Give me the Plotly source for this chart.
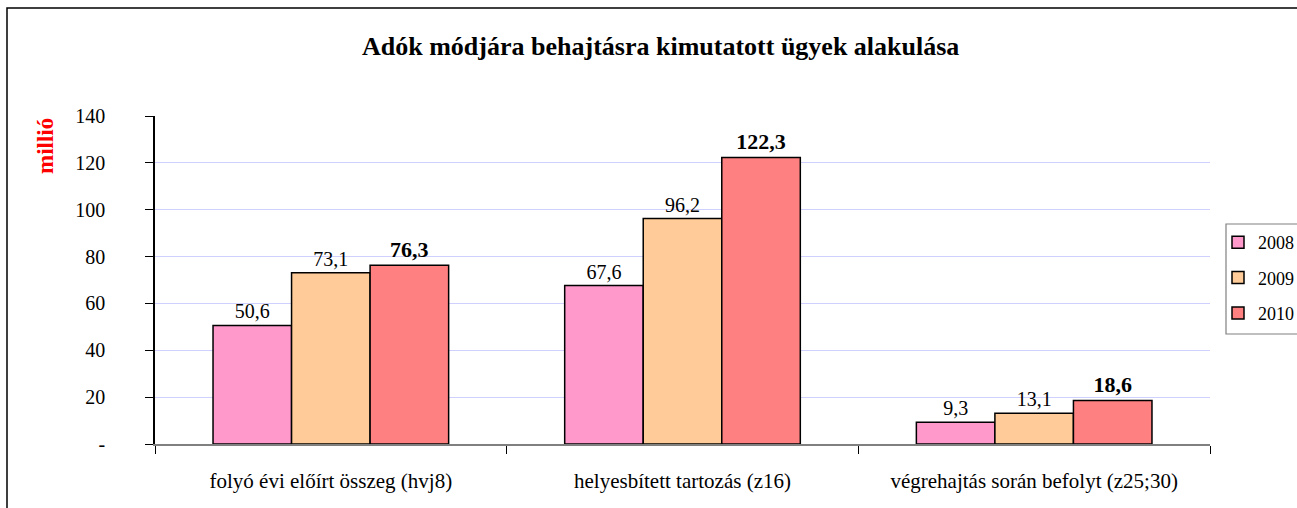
import plotly.graph_objects as go

categories = ["folyó évi előírt összeg (hvj8)", "helyesbített tartozás (z16)", "végrehajtás során befolyt (z25;30)"]
years = ["2008", "2009", "2010"]
values_2008 = [50.6, 67.6, 9.3]
values_2009 = [73.1, 96.2, 13.1]
values_2010 = [76.3, 122.3, 18.6]
colors = ["#FF99CC", "#FFCC99", "#FF8080"]
ytick_vals = [0, 20, 40, 60, 80, 100, 120, 140]
ytick_text = ["-", "20", "40", "60", "80", "100", "120", "140"]

W, H = 1297, 508
L, R, T, B = 155, 87, 116, 64
PW, PH = W - L - R, H - T - B
FONT = "Liberation Serif"

def fmt(v):
    return f"{v:.1f}".replace(".", ",")

fig = go.Figure()
for name, vals, col in zip(years, [values_2008, values_2009, values_2010], colors):
    bold = name == "2010"
    fig.add_trace(go.Bar(
        name=name, x=categories, y=vals, legendgroup=name,
        marker=dict(color=col, line=dict(color="black", width=1.5)),
        text=[f"<b>{fmt(v)}</b>" if bold else fmt(v) for v in vals],
        textposition="outside", cliponaxis=False,
        textfont=dict(family=FONT, size=22 if bold else 20, color="black"),
    ))

fig.update_layout(
    width=W, height=H,
    margin=dict(l=L, r=R, t=T, b=B, autoexpand=False),
    paper_bgcolor="white", plot_bgcolor="white",
    barmode="group", bargap=0.33, bargroupgap=0,
    font=dict(family=FONT, size=20, color="black"),
    showlegend=True,
    legend=dict(x=(1218 - L) / PW, y=(H - B - 224) / PH, xanchor="left", yanchor="top",
                borderwidth=0, traceorder="grouped",
                font=dict(family=FONT, size=18), tracegroupgap=9,
                itemwidth=30, bgcolor="rgba(0,0,0,0)"),
    xaxis=dict(showline=True, linecolor="#808080", linewidth=1.5,
               ticks="outside", tickson="boundaries", ticklen=8, tickcolor="black",
               tickfont=dict(family=FONT, size=21), ticklabelstandoff=17),
    yaxis=dict(range=[0, 140], tickvals=ytick_vals, ticktext=ytick_text,
               showline=True, linecolor="black", linewidth=1.5,
               ticks="outside", ticklen=8, tickcolor="black",
               showgrid=True, gridcolor="#D0D0FF", gridwidth=1,
               zeroline=False, tickfont=dict(family=FONT, size=20),
               ticklabelstandoff=36),
    annotations=[
        dict(text="<b>Adók módjára behajtásra kimutatott ügyek alakulása</b>",
             xref="paper", yref="paper", x=(660 - L) / PW, y=1 + (T - 46) / PH,
             xanchor="center", yanchor="middle", showarrow=False,
             font=dict(family=FONT, size=26, color="black")),
        dict(text="<b>millió</b>", xref="paper", yref="paper",
             x=(45 - L) / PW, y=1 - (146 - T) / PH,
             xanchor="center", yanchor="middle", showarrow=False, textangle=-90,
             font=dict(family=FONT, size=23, color="red")),
    ],
    shapes=[
        dict(type="rect", xref="paper", yref="paper",
             x0=(7 - L) / PW, x1=(1320 - L) / PW,
             y0=1 + (T - 8) / PH, y1=-(B + 20) / PH,
             line=dict(color="black", width=1.5), layer="below"),
        dict(type="rect", xref="paper", yref="paper",
             x0=(1226 - L) / PW, x1=(1320 - L) / PW,
             y0=(H - B - 224) / PH, y1=(H - B - 334) / PH,
             line=dict(color="#808080", width=1.2), fillcolor="white", layer="below"),
    ],
)

fig.write_html("out.html", config={"displayModeBar": False},
               post_script="document.body.style.margin='0';document.body.style.overflow='hidden';")
